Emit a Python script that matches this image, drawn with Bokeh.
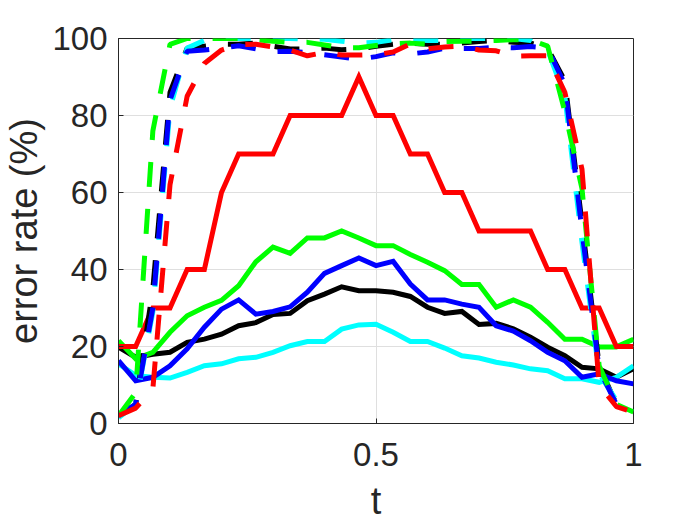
import numpy as np
from bokeh.plotting import figure
from bokeh.models import Range1d, FixedTicker
from bokeh.embed import file_html
from bokeh.resources import INLINE

# sample positions (31 evenly spaced points on [0, 1])
t = np.round(np.linspace(0, 1, 31), 4).tolist()

# solid curves
black_solid = [19.8, 17.2, 18.0, 18.5, 21.1, 21.9, 23.2, 25.4, 26.2, 28.3, 28.6, 31.9, 33.6, 35.5, 34.5, 34.5,
               34.1, 33.0, 30.2, 28.6, 29.1, 25.7, 26.0, 24.6, 22.4, 19.8, 17.6, 14.6, 14.2, 12.0, 14.2]
cyan_solid = [15.5, 12.5, 12.0, 11.8, 13.3, 15.0, 15.5, 16.8, 17.2, 18.5, 20.2, 21.3, 21.3, 24.5, 25.6, 25.8,
              23.7, 21.3, 21.3, 19.6, 17.6, 17.0, 15.9, 15.2, 14.2, 13.7, 11.6, 11.6, 10.7, 12.0, 15.0]
blue_solid = [16.3, 11.1, 12.0, 15.0, 19.4, 25.0, 29.7, 32.1, 28.4, 29.1, 30.3, 34.1, 39.0, 41.0, 43.0, 41.0,
              42.1, 36.2, 32.1, 32.1, 31.0, 30.2, 25.4, 24.0, 21.5, 18.5, 16.3, 12.0, 12.9, 11.1, 10.3]
green_solid = [21.5, 16.8, 18.5, 23.7, 28.0, 30.2, 32.0, 35.8, 42.0, 45.8, 44.2, 48.2, 48.2, 50.0, 48.2, 46.2,
               46.2, 43.9, 41.9, 39.7, 36.1, 36.1, 30.2, 32.1, 30.2, 26.3, 21.9, 21.9, 19.9, 19.9, 21.9]
red_solid = [20, 20, 30, 30, 40, 40, 60, 70, 70, 70, 80, 80, 80, 80, 90, 80,
             80, 70, 70, 60, 60, 50, 50, 50, 50, 40, 40, 30, 30, 20, 20]

# dashed curves
black_dashed = [2.0, 5.0, 35.0, 86.0, 97.5, 98.0, 98.5, 98.5, 98.8, 98.0, 97.3, 97.3, 97.5, 97.1, 97.3, 98.0,
                98.5, 98.8, 98.5, 98.5, 98.8, 99.2, 99.5, 99.0, 98.8, 97.5, 89.0, 52.0, 15.0, 5.0, 3.5]
cyan_dashed = [1.5, 5.0, 29.0, 82.0, 97.5, 99.5, 100.0, 100.0, 100.0, 100.0, 100.0, 99.8, 99.8, 99.3, 98.8, 99.0,
               99.7, 99.7, 99.5, 99.5, 100.0, 100.0, 100.0, 100.0, 99.5, 97.0, 85.0, 47.0, 13.0, 6.0, 3.5]
blue_dashed = [2.0, 5.0, 30.0, 84.0, 96.7, 97.0, 97.5, 98.1, 97.3, 96.6, 96.7, 96.3, 95.8, 95.2, 94.6, 95.3,
               96.3, 96.0, 96.5, 97.5, 97.4, 97.4, 97.7, 97.6, 97.9, 97.5, 88.0, 50.0, 14.0, 5.0, 3.5]
green_dashed = [2.0, 8.0, 76.0, 98.5, 100.0, 100.0, 100.0, 100.0, 99.7, 99.3, 99.0, 99.0, 98.3, 97.6, 97.6, 98.2,
                98.6, 98.8, 98.5, 99.2, 99.3, 99.3, 99.5, 99.7, 99.7, 98.0, 81.0, 61.0, 15.0, 5.0, 3.0]
red_dashed = [2.0, 4.0, 9.0, 62.0, 85.0, 93.5, 97.0, 98.4, 98.5, 97.8, 97.0, 95.5, 96.4, 95.7, 95.7, 95.8,
              96.5, 98.6, 97.3, 97.8, 98.0, 97.0, 96.8, 95.4, 95.5, 95.5, 86.0, 66.0, 10.0, 4.4, 2.9]

x_ticks = [0, 0.5, 1]
x_tick_labels = ["0", "0.5", "1"]
y_ticks = [0, 20, 40, 60, 80, 100]
y_tick_labels = ["0", "20", "40", "60", "80", "100"]

FONT = "Liberation Sans"
AXC = "#262626"

p = figure(frame_width=515, frame_height=385,
           min_border_left=116, min_border_right=53, min_border_top=38, min_border_bottom=85,
           x_range=Range1d(0, 1), y_range=Range1d(0, 100),
           output_backend="svg", toolbar_location=None,
           background_fill_color="white", border_fill_color="white")

p.outline_line_color = AXC
p.outline_line_width = 1

for ax in (p.xaxis[0], p.yaxis[0]):
    ax.axis_line_color = AXC
    ax.axis_line_width = 1
    ax.major_tick_line_color = AXC
    ax.major_tick_in = 5
    ax.major_tick_out = 0
    ax.minor_tick_line_color = None
    ax.major_label_text_font = FONT
    ax.major_label_text_font_size = "33px"
    ax.major_label_text_color = AXC
    ax.axis_label_text_font = FONT
    ax.axis_label_text_font_size = "38px"
    ax.axis_label_text_font_style = "normal"
    ax.axis_label_text_color = AXC

p.xaxis[0].ticker = FixedTicker(ticks=x_ticks)
p.xaxis[0].major_label_overrides = {tk: lb for tk, lb in zip(x_ticks, x_tick_labels)}
p.yaxis[0].ticker = FixedTicker(ticks=y_ticks)
p.yaxis[0].major_label_overrides = {tk: lb for tk, lb in zip(y_ticks, y_tick_labels)}
p.xaxis[0].axis_label = "t"
p.yaxis[0].axis_label = "error rate (%)"
p.xaxis[0].major_label_standoff = 19
p.yaxis[0].major_label_standoff = 11
p.xaxis[0].axis_label_standoff = 11
p.yaxis[0].axis_label_standoff = 4

p.xgrid[0].ticker = FixedTicker(ticks=x_ticks)
p.ygrid[0].ticker = FixedTicker(ticks=y_ticks)
for g in (p.xgrid[0], p.ygrid[0]):
    g.grid_line_color = "#dfdfdf"
    g.grid_line_width = 1

solids = [(black_solid, "#000000"), (cyan_solid, "#00ffff"), (blue_solid, "#0000ff"),
          (green_solid, "#00ff00"), (red_solid, "#ff0000")]
dashed = [(black_dashed, "#000000"), (cyan_dashed, "#00ffff"), (blue_dashed, "#0000ff"),
          (green_dashed, "#00ff00"), (red_dashed, "#ff0000")]

for ys, c in solids:
    p.line(t, ys, line_color=c, line_width=5, line_join="miter")
for ys, c in dashed:
    p.line(t, ys, line_color=c, line_width=5, line_dash="25 22", line_join="bevel")

open("out.html", "w").write(file_html(p, INLINE))
